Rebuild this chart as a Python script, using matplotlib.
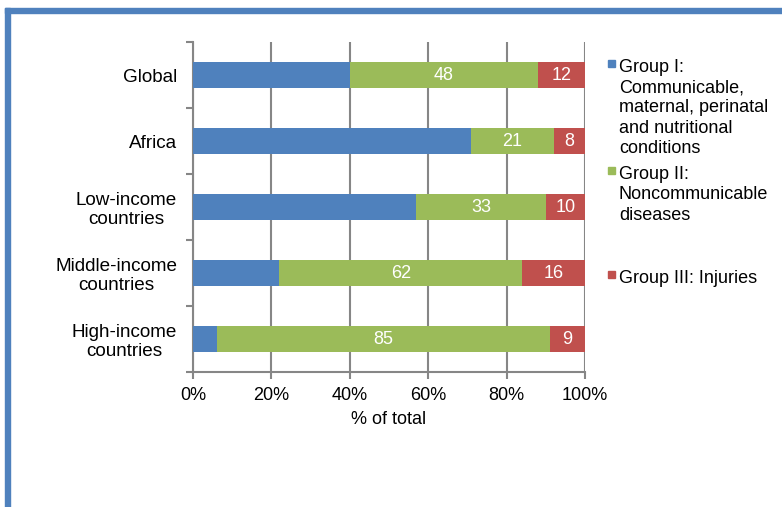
#!/usr/bin/env python
import numpy as np
import matplotlib
matplotlib.use('Agg')
from matplotlib import pyplot as plt
from matplotlib.patches import Rectangle
from matplotlib.ticker import FixedLocator, PercentFormatter

plt.rc('font', **{'family': 'sans-serif', 'sans-serif': ['Liberation Sans', 'DejaVu Sans'], 'size': 13})

# data
regions = ['Global', 'Africa', 'Low-income\ncountries', 'Middle-income\ncountries', 'High-income\ncountries']
group1 = [40, 71, 57, 22, 6]
group2 = [48, 21, 33, 62, 85]
group3 = [12, 8, 10, 16, 9]
legend_labels = ['Group I:\nCommunicable,\nmaternal, perinatal\nand nutritional\nconditions',
                 'Group II:\nNoncommunicable\ndiseases',
                 'Group III: Injuries']
colors = ['#4F81BD', '#9BBB59', '#C0504D']
grey = '#868686'

fig = plt.figure(figsize=(7.82, 5.07), dpi=100)
ax = fig.add_axes([193/782, 1 - 372/507, 392/782, 330/507])

y = np.arange(len(regions))
g1 = np.array(group1)
g2 = np.array(group2)
g3 = np.array(group3)
h = 0.4
ax.barh(y, g1, height=h, color=colors[0], zorder=3)
b2 = ax.barh(y, g2, left=g1, height=h, color=colors[1], zorder=3)
b3 = ax.barh(y, g3, left=g1 + g2, height=h, color=colors[2], zorder=3)
ax.bar_label(b2, labels=[str(v) for v in group2], label_type='center', color='white', fontsize=13)
ax.bar_label(b3, labels=[str(v) for v in group3], label_type='center', color='white', fontsize=13)

ax.set_xlim(0, 100)
ax.set_ylim(len(regions) - 0.5, -0.5)
ax.xaxis.set_major_locator(FixedLocator([0, 20, 40, 60, 80, 100]))
ax.xaxis.set_major_formatter(PercentFormatter(decimals=0))
ax.grid(axis='x', color=grey, linewidth=1.5, zorder=0)

# category labels between boundary ticks
ax.set_yticks(y)
ax.set_yticklabels(regions, ha='right', multialignment='center', fontsize=13.6, linespacing=1.15)
ax.tick_params(axis='y', which='major', length=0, pad=11.5)
ax.set_yticks(np.arange(-0.5, len(regions)), minor=True)
ax.tick_params(axis='y', which='minor', length=5, width=1.5, color=grey)
ax.tick_params(axis='x', length=5, width=1.5, color=grey, pad=6)

for s in ['top', 'right']:
    ax.spines[s].set_visible(False)
for s in ['left', 'bottom']:
    ax.spines[s].set_color(grey)
    ax.spines[s].set_linewidth(1.5)
ax.set_xlabel('% of total', labelpad=5)

# legend drawn by hand to match the spacing
leg_y = [70, 177, 281]
for lab, c, yy in zip(legend_labels, colors, leg_y):
    fig.patches.append(Rectangle((608/782, 1 - (yy - 3)/507), 7/782, 7/507,
                                 transform=fig.transFigure, color=c))
    fig.text(619/782, 1 - (yy - 11)/507, lab, ha='left', va='top', linespacing=1.25, fontsize=13)

# blue frame along top and left edges
fig.patches.append(Rectangle((5/782, 0), 5/782, 1 - 8/507, transform=fig.transFigure, color='#4F81BD'))
fig.patches.append(Rectangle((5/782, 1 - 13/507), 1, 5/507, transform=fig.transFigure, color='#4F81BD'))

plt.savefig('out.png', dpi=100)
